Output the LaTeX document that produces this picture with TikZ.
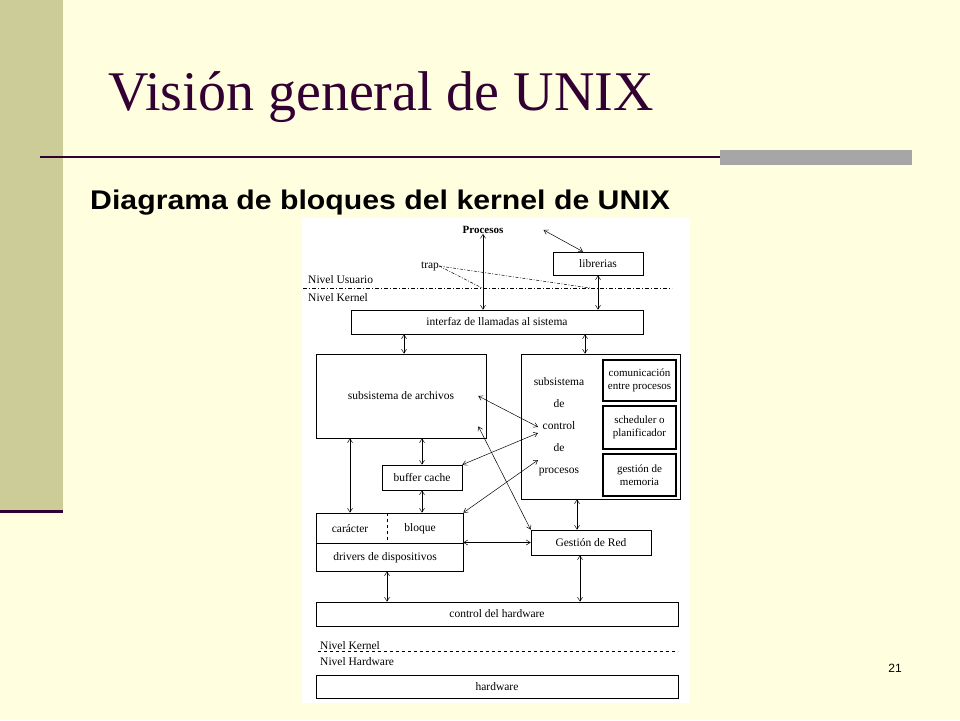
\documentclass[tikz,border=0pt]{standalone}
\usepackage{fontspec}
\setmainfont{Liberation Serif}
\newfontfamily\arialfont{Liberation Sans}
\usetikzlibrary{arrows.meta}
\definecolor{cream}{HTML}{FFFFE0}
\definecolor{khaki}{HTML}{CCCC99}
\definecolor{plum}{HTML}{330033}
\definecolor{steel}{HTML}{A6A6A6}
\tikzset{
  blk/.style={draw, line width=0.6pt, fill=white, inner sep=0pt, font=\fontsize{11.5}{12.5}\selectfont, align=center},
  subblk/.style={blk, line width=1.1pt, minimum width=73pt, font=\fontsize{11}{12.5}\selectfont},
  lbl/.style={inner sep=0pt, font=\fontsize{11.5}{12.5}\selectfont},
  biarrow/.style={{Straight Barb[length=4pt,width=5pt]}-{Straight Barb[length=4pt,width=5pt]}, line width=0.5pt},
  levelline/.style={line width=0.8pt, dash pattern=on 4pt off 2pt on 1pt off 2pt}
}
\begin{document}
\begin{tikzpicture}[x=1pt,y=-1pt]
\useasboundingbox (0,0) rectangle (960,720);
\fill[cream] (0,0) rectangle (960,720);
% slide frame
\fill[khaki] (0,0) rectangle (63,510);
\draw[plum, line width=3pt] (0,511) -- (63,511);
\draw[plum, line width=1.5pt] (40,157) -- (912,157);
\fill[steel] (720,150) rectangle (912,165);
\node[anchor=base west, inner sep=0pt, text=plum, font=\fontsize{56}{58}\selectfont] (title) at (108,110) {Visión general de UNIX};
\node[anchor=base west, inner sep=0pt, xscale=1.12, transform shape, font=\arialfont\bfseries\fontsize{27}{29}\selectfont] (subtitle) at (90,209) {Diagrama de bloques del kernel de UNIX};
\node[inner sep=0pt, font=\arialfont\fontsize{12}{14}\selectfont] (pagenum) at (895,668) {21};
\fill[white] (302,218) rectangle (690,703);

% user level
\node[lbl, font=\bfseries\fontsize{11}{12}\selectfont] (procesos) at (483,230) {Procesos};
\node[blk, minimum width=90pt, minimum height=23pt] (librerias) at (598,263.5) {librerias};
\node[lbl] (trap) at (430,266) {trap};
\node[lbl, anchor=west] (nivelusr) at (308,280) {Nivel Usuario};
\node[lbl, anchor=west] (nivelker) at (308,298) {Nivel Kernel};
\coordinate (lvlA) at (303,288);
\coordinate (lvlB) at (672,288);
\draw[levelline] (lvlA) -- (lvlB);
\coordinate (trapA) at (482,288);
\coordinate (trapB) at (590,288);
\draw[line width=0.5pt, dash pattern=on 3pt off 1.5pt on 1pt off 1.5pt] (trap.east) -- (trapA);
\draw[line width=0.5pt, dash pattern=on 3pt off 1.5pt on 1pt off 1.5pt] (trap.east) -- (trapB);

% kernel
\node[blk, minimum width=292pt, minimum height=24pt] (interfaz) at (497,322) {interfaz de llamadas al sistema};
\node[blk, minimum width=170pt, minimum height=84pt] (archivos) at (401,396) {subsistema de archivos};
\node[blk, minimum width=159pt, minimum height=145pt] (control) at (600.5,426.5) {};
\node[lbl, align=center, font=\fontsize{11.5}{22}\selectfont] (controltxt) at (559,426.5) {subsistema\\de\\control\\de\\procesos};
\node[subblk, minimum height=41pt] (ipc) at (639.5,380.5) {comunicación\\entre procesos};
\node[subblk, minimum height=43pt] (sched) at (639.5,427.5) {scheduler o\\planificador};
\node[subblk, minimum height=42pt] (memoria) at (639.5,475) {gestión de\\memoria};
\node[blk, minimum width=80pt, minimum height=25pt] (buffer) at (422,477.5) {buffer cache};
\node[blk, minimum width=147pt, minimum height=58pt] (drivers) at (389.5,542) {};
\draw[line width=0.6pt] (drivers.west |- 0,543) -- (drivers.east |- 0,543);
\draw[line width=0.6pt, dashed] (387,513) -- (387,543);
\node[lbl] (caracter) at (350,529) {carácter};
\node[lbl] (bloque) at (420,529) {bloque};
\node[lbl] (drvtxt) at (385,558) {drivers de dispositivos};
\node[blk, minimum width=120pt, minimum height=25pt] (red) at (591,542.5) {Gestión de Red};
\node[blk, minimum width=362pt, minimum height=24pt] (ctrlhw) at (497,614) {control del hardware};

% hardware level
\node[lbl, anchor=west] (kerlow) at (320,646) {Nivel Kernel};
\node[lbl, anchor=west] (hwlevel) at (320,662) {Nivel Hardware};
\coordinate (hlvA) at (318,651);
\coordinate (hlvB) at (678,651);
\draw[line width=0.8pt, dash pattern=on 3pt off 3pt] (hlvA) -- (hlvB);
\node[blk, minimum width=362pt, minimum height=23pt] (hardware) at (497,686.5) {hardware};

% connectors
\coordinate (ctlA) at (538,427);
\coordinate (ctlB) at (538,433);
\coordinate (ctlC) at (538,460);
\draw[biarrow] (procesos.south) -- (procesos.south |- interfaz.north);
\draw[biarrow] ([xshift=40pt]procesos.east) -- ([xshift=-15pt]librerias.north);
\draw[biarrow] (librerias.south) -- (librerias.south |- interfaz.north);
\draw[biarrow] (interfaz.south -| 404,0) -- (archivos.north -| 404,0);
\draw[biarrow] (interfaz.south -| 585,0) -- (control.north -| 585,0);
\draw[biarrow] (archivos.south -| buffer.north) -- (buffer.north);
\draw[biarrow] (archivos.south -| 350,0) -- (drivers.north -| 350,0);
\draw[biarrow] (buffer.south) -- (buffer.south |- drivers.north);
\draw[biarrow] ([xshift=-8pt]archivos.east) -- (ctlA);
\draw[biarrow] (buffer.north east) -- (ctlB);
\draw[biarrow] (drivers.north east) -- (ctlC);
\draw[biarrow] ([xshift=-8pt,yshift=12pt]archivos.south east) -- (red.north west);
\draw[biarrow] (drivers.east |- red.west) -- (red.west);
\draw[biarrow] (control.south -| 577,0) -- (red.north -| 577,0);
\draw[biarrow] (drivers.south -| 387,0) -- (ctrlhw.north -| 387,0);
\draw[biarrow] (red.south -| 580,0) -- (ctrlhw.north -| 580,0);
\end{tikzpicture}
\end{document}
